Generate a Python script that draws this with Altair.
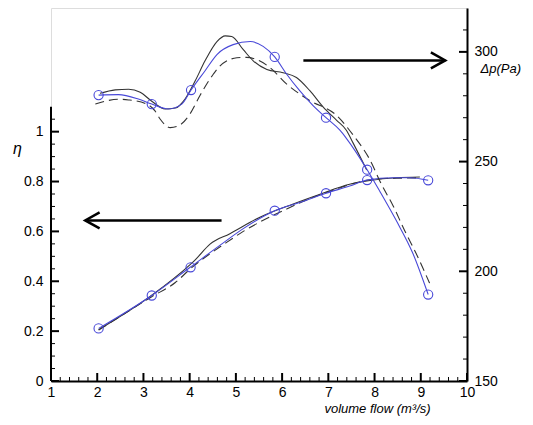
import altair as alt
import pandas as pd

# ---------------- data ----------------
# Efficiency (left axis, eta)
eta_fit_flow = [2.03, 3.18, 4.01, 4.66, 5.16, 5.84, 6.38, 6.95, 7.46, 7.84, 8.40, 8.76, 9.16]
eta_fit_val = [0.211, 0.343, 0.456, 0.545, 0.611, 0.683, 0.716, 0.753, 0.782, 0.806, 0.815, 0.815, 0.805]
eta_pts_flow = [2.03, 3.18, 4.02, 5.84, 6.95, 7.84, 9.16]
eta_pts_val = [0.211, 0.343, 0.456, 0.683, 0.753, 0.806, 0.805]
eta_solid_flow = [2.03, 3.18, 4.01, 4.12, 4.44, 4.87, 5.52, 6.24, 6.82, 7.46, 7.90, 8.47, 8.98]
eta_solid_val = [0.206, 0.344, 0.467, 0.486, 0.549, 0.591, 0.657, 0.710, 0.749, 0.789, 0.804, 0.815, 0.818]
eta_dash_flow = [2.03, 3.18, 3.69, 4.01, 4.80, 5.16, 6.10, 6.53, 7.18, 7.68, 8.18, 8.47, 8.98]
eta_dash_val = [0.204, 0.338, 0.395, 0.449, 0.556, 0.600, 0.690, 0.726, 0.770, 0.799, 0.812, 0.813, 0.815]

# Pressure rise (right axis, Pa)
pa_fit_flow = [2.03, 2.46, 2.89, 3.18, 3.54, 3.83, 4.03, 4.33, 4.59, 4.94, 5.31, 5.59,
               5.84, 6.10, 6.38, 6.67, 6.95, 7.25, 7.39, 7.84, 8.11, 8.47, 8.83, 9.16]
pa_fit_val = [280.3, 280.5, 278.5, 276.2, 274.0, 276.2, 282.6, 291.3, 298.8, 303.3, 304.7, 302.5,
              297.7, 289.8, 282.3, 275.5, 270.0, 264.3, 260.6, 246.3, 236.6, 223.1, 208.1, 189.4]
pa_pts_flow = [2.03, 3.18, 4.03, 5.84, 6.95, 7.84, 9.16]
pa_pts_val = [280.3, 276.2, 282.6, 297.7, 270.0, 246.3, 189.4]
pa_solid_flow = [2.06, 2.39, 2.68, 2.93, 3.18, 3.47, 3.69, 3.90, 4.12, 4.33, 4.59, 4.77,
                 4.91, 5.16, 5.38, 5.67, 6.02, 6.31, 6.60, 6.89, 7.18, 7.39, 7.54, 7.83]
pa_solid_val = [281.1, 282.7, 283.0, 281.6, 277.5, 274.0, 274.4, 278.5, 286.8, 295.8, 304.7, 307.3,
                307.0, 301.0, 295.8, 292.0, 290.5, 288.3, 282.3, 274.8, 268.8, 264.3, 258.3, 246.2]
pa_dash_flow = [1.96, 2.17, 2.46, 2.68, 3.07, 3.25, 3.36, 3.58, 3.79, 4.01, 4.22, 4.51, 4.62, 5.02,
                5.23, 5.52, 5.74, 6.10, 6.38, 6.60, 7.18, 7.54, 7.90, 8.15, 8.40, 8.65, 8.90, 9.19]
pa_dash_val = [276.2, 277.5, 278.4, 278.1, 276.2, 273.1, 269.4, 265.5, 266.7, 271.8, 280.0, 289.8, 292.8, 297.3,
               297.5, 295.8, 292.8, 285.3, 280.8, 277.8, 271.0, 262.0, 250.8, 239.6, 229.9, 218.6, 208.1, 194.6]

# arrows (annotation)
left_arrow = {"x1": 1.74, "x2": 4.69, "y": 0.644}
right_arrow = {"x1": 6.46, "x2": 9.53, "y": 296.1}

# ticks
flow_major = [1, 2, 3, 4, 5, 6, 7, 8, 9, 10]
flow_minor = [round(1 + 0.2 * i, 2) for i in range(46) if i % 5 != 0]
eta_major = [0, 0.2, 0.4, 0.6, 0.8, 1.0]
eta_minor = [0.05, 0.1, 0.15, 0.25, 0.3, 0.35, 0.45, 0.5, 0.55, 0.65, 0.7, 0.75, 0.85, 0.9, 0.95, 1.05]
pa_major = [150, 200, 250, 300]
pa_minor = [160, 170, 180, 190, 210, 220, 230, 240, 260, 270, 280, 290, 310]

W, H = 416, 373
BLUE = "#4848d8"
LINE = "#333333"
FONT = "Liberation Sans"

xscale = alt.Scale(domain=[1, 10], nice=False, zero=False)
xaxis = alt.Axis(values=flow_major, format="d", grid=False, ticks=False, tickSize=0,
                 domain=True, domainColor="black", domainWidth=2, labelFlush=False,
                 labelPadding=4, labelFontSize=14, labelColor="black", labelFont=FONT,
                 title="volume flow (m³/s)", titleFontStyle="italic", titleFontWeight="normal",
                 titleFontSize=13, titleFont=FONT, titleColor="black",
                 titleX=326, titleY=27, titleAlign="center", titleBaseline="middle")

eta_scale = alt.Scale(domain=[0, 1.496], nice=False, zero=False)
eta_axis = alt.Axis(values=eta_major, format="~g", grid=False, ticks=False, tickSize=0,
                    domain=False, labelPadding=8, labelFontSize=14, labelColor="black",
                    labelFont=FONT, labelFlush=False,
                    title="η", titleAngle=0, titleFontStyle="italic", titleFontWeight="normal",
                    titleFontSize=16, titleFont=FONT, titleColor="black",
                    titleX=-34, titleY=140, titleAlign="center", titleBaseline="middle")

pa_scale = alt.Scale(domain=[150, 320], nice=False, zero=False)
pa_axis = alt.Axis(orient="right", values=pa_major, format="d", grid=False, ticks=False, tickSize=0,
                   domain=True, domainColor="black", domainWidth=2, labelPadding=7,
                   labelFontSize=14, labelColor="black", labelFont=FONT, labelFlush=False,
                   title="Δp(Pa)", titleAngle=0, titleFontStyle="italic", titleFontWeight="normal",
                   titleFontSize=13, titleFont=FONT, titleColor="black",
                   titleX=13, titleY=60, titleAlign="left", titleBaseline="middle")


def X(field):
    return alt.X(f"{field}:Q", scale=xscale, axis=xaxis)


def Ye(field):
    return alt.Y(f"{field}:Q", scale=eta_scale, axis=eta_axis)


def Yp(field):
    return alt.Y(f"{field}:Q", scale=pa_scale, axis=pa_axis)


def line(flow, val, Yf, color, dash=None, width=1.1):
    df = pd.DataFrame({"flow": flow, "v": val})
    kw = dict(interpolate="monotone", color=color, strokeWidth=width)
    if dash:
        kw["strokeDash"] = dash
    return alt.Chart(df).mark_line(**kw).encode(x=X("flow"), y=Yf("v"))


def circles(flow, val, Yf):
    df = pd.DataFrame({"flow": flow, "v": val})
    return alt.Chart(df).mark_point(shape="circle", filled=False, color=BLUE, size=85,
                                    strokeWidth=1.1, opacity=1).encode(x=X("flow"), y=Yf("v"))


def arrow(a, Yf, head):
    df = pd.DataFrame([a])
    shaft = alt.Chart(df).mark_rule(color="black", strokeWidth=2.5).encode(
        x=X("x1"), x2="x2:Q", y=Yf("y"))
    tip_field = "x1" if head == "left" else "x2"
    path = "M1.8,-1L0,0L1.8,1" if head == "left" else "M-1.8,-1L0,0L-1.8,1"
    tip = alt.Chart(df).mark_point(shape=path, filled=False, color="black", size=256,
                                   strokeWidth=2.5, opacity=1).encode(x=X(tip_field), y=Yf("y"))
    return shaft + tip


# ticks on bottom axis (pointing inward)
xt_major = alt.Chart(pd.DataFrame({"v": flow_major})).mark_rule(color="black", strokeWidth=2).encode(
    x=X("v"), y=alt.value(H), y2=alt.value(H - 8))
xt_minor = alt.Chart(pd.DataFrame({"v": flow_minor})).mark_rule(color="black", strokeWidth=1).encode(
    x=X("v"), y=alt.value(H), y2=alt.value(H - 4))

# left axis (eta) line and ticks
eta_domain = alt.Chart(pd.DataFrame({"a": [0.0], "b": [1.1]})).mark_rule(color="black", strokeWidth=2).encode(
    x=alt.value(0), y=Ye("a"), y2="b:Q")
et_major = alt.Chart(pd.DataFrame({"v": eta_major})).mark_rule(color="black", strokeWidth=2).encode(
    y=Ye("v"), x=alt.value(0), x2=alt.value(8))
et_minor = alt.Chart(pd.DataFrame({"v": eta_minor})).mark_rule(color="black", strokeWidth=1).encode(
    y=Ye("v"), x=alt.value(0), x2=alt.value(4))

# right axis ticks
pt_major = alt.Chart(pd.DataFrame({"v": pa_major})).mark_rule(color="black", strokeWidth=2).encode(
    y=Yp("v"), x=alt.value(W), x2=alt.value(W - 8))
pt_minor = alt.Chart(pd.DataFrame({"v": pa_minor})).mark_rule(color="black", strokeWidth=1).encode(
    y=Yp("v"), x=alt.value(W), x2=alt.value(W - 4))

eta_group = alt.layer(
    xt_major, xt_minor, eta_domain, et_major, et_minor,
    line(eta_solid_flow, eta_solid_val, Ye, LINE),
    line(eta_dash_flow, eta_dash_val, Ye, LINE, dash=[9, 5]),
    line(eta_fit_flow, eta_fit_val, Ye, BLUE),
    circles(eta_pts_flow, eta_pts_val, Ye),
    arrow(left_arrow, Ye, "left"),
)

pa_group = alt.layer(
    pt_major, pt_minor,
    line(pa_solid_flow, pa_solid_val, Yp, LINE),
    line(pa_dash_flow, pa_dash_val, Yp, LINE, dash=[9, 5]),
    line(pa_fit_flow, pa_fit_val, Yp, BLUE),
    circles(pa_pts_flow, pa_pts_val, Yp),
    arrow(right_arrow, Yp, "right"),
)

chart = alt.layer(eta_group, pa_group).resolve_scale(y="independent").properties(
    width=W, height=H,
    autosize=alt.AutoSizeParams(type="none"),
    padding={"left": 43, "top": 0, "right": 58, "bottom": 36},
    background="white",
).configure_view(stroke=None).configure(font=FONT)

chart.save("out.html", embed_options={"renderer": "svg", "actions": False})
